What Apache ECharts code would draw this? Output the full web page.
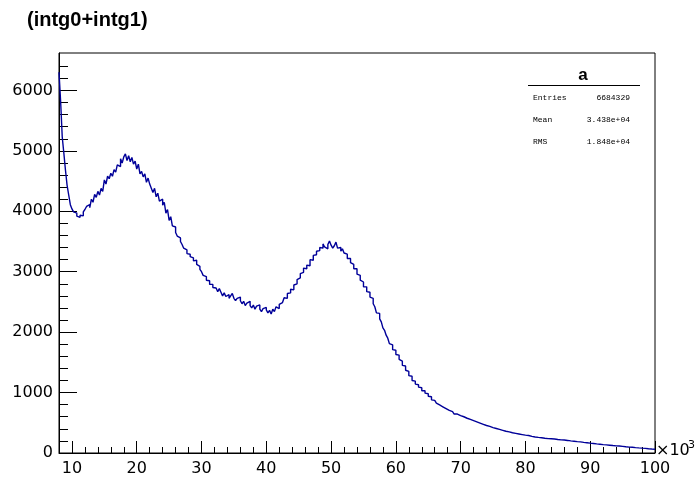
<!DOCTYPE html>
<html>
<head>
<meta charset="utf-8">
<script src="https://cdn.jsdelivr.net/npm/echarts@6/dist/echarts.min.js"></script>
<style>
html,body{margin:0;padding:0;background:#fff;}
#c{width:697px;height:477px;}
</style>
</head>
<body>
<div id="c"></div>
<script>
// Histogram bins (x in units of 10^3), left edge of first bin and bin width
const binStart = 8;
const binWidth = 0.25;
const counts = [
6300, 5820, 5230, 4960, 4680, 4430, 4270, 4110,
4040, 3990, 3970, 3920, 3900, 3935, 3925, 3990,
4030, 4080, 4110, 4060, 4200, 4150, 4280, 4230,
4330, 4270, 4380, 4330, 4520, 4450, 4580, 4540,
4630, 4580, 4690, 4650, 4770, 4740, 4870, 4800,
4900, 4950, 4840, 4920, 4820, 4890, 4780, 4830,
4700, 4780, 4620, 4660, 4570, 4620, 4480, 4550,
4450, 4380, 4310, 4380, 4240, 4300, 4170, 4200,
4100, 4150, 3970, 4030, 3850, 3910, 3760, 3740,
3650, 3590, 3560, 3500, 3450, 3390, 3360, 3300,
3290, 3250, 3230, 3180, 3190, 3120, 3090, 3040,
3000, 2940, 2920, 2860, 2850, 2790, 2790, 2740,
2730, 2760, 2670, 2720, 2660, 2600, 2650, 2590,
2620, 2560, 2600, 2640, 2560, 2520, 2560, 2580,
2520, 2470, 2510, 2440, 2480, 2510, 2440, 2400,
2450, 2380, 2430, 2450, 2380, 2340, 2390, 2410,
2370, 2320, 2360, 2300, 2380, 2340, 2420, 2390,
2460, 2490, 2500, 2570, 2560, 2640, 2650, 2710,
2700, 2780, 2800, 2870, 2900, 2970, 2990, 3060,
3050, 3110, 3100, 3200, 3190, 3270, 3280, 3340,
3350, 3400, 3390, 3460, 3410, 3380, 3450, 3510,
3440, 3390, 3430, 3490, 3390, 3400, 3340, 3380,
3310, 3290, 3220, 3220, 3150, 3120, 3050, 3050,
2960, 2940, 2860, 2830, 2750, 2750, 2670, 2660,
2580, 2560, 2470, 2420, 2320, 2310, 2220, 2170,
2070, 2030, 1950, 1900, 1810, 1790, 1710, 1700,
1630, 1620, 1550, 1520, 1450, 1440, 1370, 1350,
1280, 1270, 1200, 1190, 1140, 1130, 1090, 1080,
1030, 1030, 990, 980, 940, 930, 880, 870,
840, 825, 795, 795, 765, 760, 735, 730,
705, 705, 685, 670, 645, 645, 625, 620,
605, 600, 580, 575, 555, 555, 535, 535,
515, 515, 495, 495, 475, 475, 455, 455,
435, 440, 420, 420, 405, 405, 385, 390,
370, 375, 355, 360, 345, 350, 330, 335,
325, 325, 310, 315, 305, 305, 290, 295,
285, 290, 270, 275, 260, 265, 252, 258,
255, 253, 240, 245, 235, 238, 225, 235,
230, 232, 220, 224, 217, 218, 205, 215,
205, 208, 195, 200, 190, 195, 183, 188,
180, 184, 170, 175, 165, 169, 157, 163,
155, 158, 145, 151, 140, 145, 133, 138,
135, 135, 123, 129, 120, 123, 113, 118,
115, 115, 103, 109, 100, 103, 93, 98,
95, 95, 83, 89, 80, 84, 76, 80,
76, 77, 66, 71, 62, 66, 58, 62
];
const xMajorTicks = [10, 20, 30, 40, 50, 60, 70, 80, 90, 100];
const xMinorTicks = [12,14,16,18,22,24,26,28,32,34,36,38,42,44,46,48,52,54,56,58,62,64,66,68,72,74,76,78,82,84,86,88,92,94,96,98];
const yMajorTicks = [0, 1000, 2000, 3000, 4000, 5000, 6000];
const yMinorTicks = [200,400,600,800,1200,1400,1600,1800,2200,2400,2600,2800,3200,3400,3600,3800,4200,4400,4600,4800,5200,5400,5600,5800,6200,6400];
const xRange = [8, 100];
const yRange = [0, 6620];
const titleText = '(intg0+intg1)';
const statsName = 'a';
const statsLabels = ['Entries', 'Mean', 'RMS'];
const statsValues = ['6684329', '3.438e+04', '1.848e+04'];

const data = counts.map((c, i) => [binStart + i * binWidth, c]);
data.push([binStart + counts.length * binWidth, counts[counts.length - 1]]);

const chart = echarts.init(document.getElementById('c'), null, {renderer: 'canvas'});
const font = 'DejaVu Sans';
const axisCol = '#000';
const grid = {left: 59, right: 42, top: 53, bottom: 20, show: true, borderColor: '#000', borderWidth: 1, backgroundColor: 'transparent'};

const statsGraphics = [];
statsGraphics.push({type: 'text', x: 583, y: 75, style: {text: statsName, font: 'bold 17px "Liberation Sans"', fill: '#000', align: 'center', verticalAlign: 'middle'}});
statsGraphics.push({type: 'line', shape: {x1: 528, y1: 85.5, x2: 640, y2: 85.5}, style: {stroke: '#000', lineWidth: 1}});
statsLabels.forEach((l, i) => {
  const y = 98 + i * 22;
  statsGraphics.push({type: 'text', x: 533, y: y, style: {text: l, font: '8px "Liberation Mono"', fill: '#000', align: 'left', verticalAlign: 'middle'}});
  statsGraphics.push({type: 'text', x: 630, y: y, style: {text: statsValues[i], font: '8px "Liberation Mono"', fill: '#000', align: 'right', verticalAlign: 'middle'}});
});

chart.setOption({
  animation: false,
  grid: grid,
  xAxis: [
    {type: 'value', min: xRange[0], max: xRange[1], position: 'bottom',
     axisLine: {show: true, lineStyle: {color: axisCol, width: 1}},
     axisTick: {show: true, inside: true, length: 12, customValues: xMajorTicks, lineStyle: {color: axisCol}},
     axisLabel: {show: true, customValues: xMajorTicks, margin: 8, color: '#000', fontFamily: font, fontSize: 16, formatter: v => String(v)},
     splitLine: {show: false}},
    {type: 'value', min: xRange[0], max: xRange[1], position: 'bottom', offset: 0,
     axisLine: {show: false},
     axisTick: {show: true, inside: true, length: 6, customValues: xMinorTicks, lineStyle: {color: axisCol}},
     axisLabel: {show: false},
     splitLine: {show: false}}
  ],
  yAxis: [
    {type: 'value', min: yRange[0], max: yRange[1], position: 'left',
     axisLine: {show: true, lineStyle: {color: axisCol, width: 1}},
     axisTick: {show: true, inside: true, length: 18, customValues: yMajorTicks, lineStyle: {color: axisCol}},
     axisLabel: {show: true, customValues: yMajorTicks, margin: 6, color: '#000', fontFamily: font, fontSize: 16, formatter: v => String(v)},
     splitLine: {show: false}},
    {type: 'value', min: yRange[0], max: yRange[1], position: 'left', offset: 0,
     axisLine: {show: false},
     axisTick: {show: true, inside: true, length: 9, customValues: yMinorTicks, lineStyle: {color: axisCol}},
     axisLabel: {show: false},
     splitLine: {show: false}}
  ],
  series: [{
    type: 'line', step: 'end', data: data, showSymbol: false, symbol: 'none',
    xAxisIndex: 0, yAxisIndex: 0,
    lineStyle: {color: '#000099', width: 1.4}
  }],
  graphic: [
    {type: 'text', x: 27, y: 20, style: {text: titleText, font: 'bold 20px "Liberation Sans"', fill: '#000', align: 'left', verticalAlign: 'middle'}},
    {type: 'text', x: 656, y: 451, style: {text: '×10', font: '16px "DejaVu Sans"', fill: '#000', align: 'left', verticalAlign: 'middle'}},
    {type: 'text', x: 688, y: 445, style: {text: '3', font: '11px "DejaVu Sans"', fill: '#000', align: 'left', verticalAlign: 'middle'}}
  ].concat(statsGraphics)
});
</script>
</body>
</html>
